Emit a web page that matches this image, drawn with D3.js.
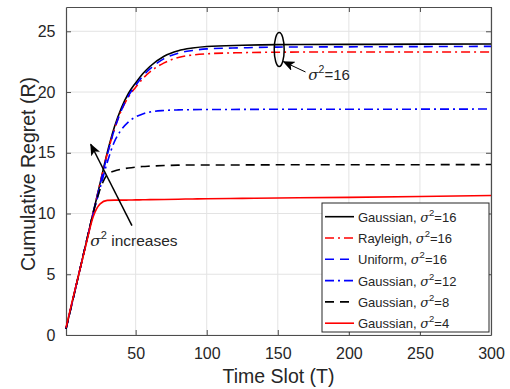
<!DOCTYPE html>
<html>
<head>
<meta charset="utf-8">
<script src="https://cdn.jsdelivr.net/npm/d3@7"></script>
<style>
  body { margin: 0; background: #fff; }
  svg text { font-family: "Liberation Sans", Arial, Helvetica, sans-serif; fill: #262626; }
</style>
</head>
<body>
<div id="wrapper"></div>
<script>
const slots = [1, 5, 10, 15, 20, 25, 30, 35, 40, 45, 50, 55, 60, 70, 80, 90, 100, 125, 150, 200, 250, 300];

const gauss16 = [0.5, 2.5, 5.0, 7.5, 10.0, 12.5, 15.0, 17.1, 18.7, 19.9, 20.75, 21.5, 22.1, 22.95, 23.4, 23.62, 23.75, 23.85, 23.9, 23.92, 23.94, 23.95];
const rayl16  = [0.5, 2.5, 5.0, 7.5, 10.0, 12.5, 14.9, 16.9, 18.5, 19.6, 20.4, 21.1, 21.65, 22.4, 22.85, 23.05, 23.15, 23.24, 23.28, 23.3, 23.3, 23.3];
const unif16  = [0.5, 2.5, 5.0, 7.5, 10.0, 12.4, 14.8, 16.9, 18.5, 19.7, 20.55, 21.3, 21.9, 22.75, 23.2, 23.42, 23.55, 23.64, 23.7, 23.72, 23.74, 23.76];
const gauss12 = [0.5, 2.5, 5.0, 7.5, 9.9, 12.1, 14.2, 15.9, 16.9, 17.55, 17.95, 18.2, 18.35, 18.48, 18.53, 18.55, 18.56, 18.57, 18.58, 18.58, 18.59, 18.6];
const gauss8  = [0.5, 2.5, 5.0, 7.5, 10.0, 12.0, 13.2, 13.5, 13.65, 13.75, 13.82, 13.87, 13.9, 13.95, 13.98, 14.0, 14.0, 14.0, 14.01, 14.02, 14.02, 14.03];
const gauss4  = [0.6, 2.6, 5.0, 7.4, 9.7, 10.8, 11.08, 11.1, 11.1, 11.11, 11.12, 11.13, 11.14, 11.16, 11.18, 11.2, 11.22, 11.25, 11.28, 11.33, 11.4, 11.48];

const seriesNames = ["Gaussian", "Rayleigh", "Uniform", "Gaussian", "Gaussian", "Gaussian"];
const seriesSigma = ["16", "16", "16", "12", "8", "4"];
const seriesValues = [gauss16, rayl16, unif16, gauss12, gauss8, gauss4];

const xTicks = [50, 100, 150, 200, 250, 300];
const yTicks = [0, 5, 10, 15, 20, 25];

// styles per series (same order)
const colors = ["#000000", "#ff0000", "#0000ff", "#0000ff", "#000000", "#ff0000"];
const dashes = [null, "9,4,2,4", "9,6", "9,4,2,4", "9,6", null];

const dimension = {
    width: 510,
    height: 389,
    margin: { top: 7, right: 19, bottom: 54, left: 66 }
};
dimension.boundedWidth = dimension.width - dimension.margin.left - dimension.margin.right;
dimension.boundedHeight = dimension.height - dimension.margin.top - dimension.margin.bottom;

const svg = d3.select("#wrapper").append("svg")
    .attr("width", dimension.width)
    .attr("height", dimension.height);

const bounds = svg.append("g")
    .attr("transform", `translate(${dimension.margin.left},${dimension.margin.top})`);

const x = d3.scaleLinear().domain([1, 300]).range([0, dimension.boundedWidth]);
const y = d3.scaleLinear().domain([0, 27]).range([dimension.boundedHeight, 0]);

// grid
bounds.append("g").selectAll("line").data(xTicks).enter().append("line")
    .attr("x1", d => x(d)).attr("x2", d => x(d))
    .attr("y1", 0).attr("y2", dimension.boundedHeight)
    .attr("stroke", "#e3e3e3").attr("stroke-width", 1);
bounds.append("g").selectAll("line").data(yTicks).enter().append("line")
    .attr("x1", 0).attr("x2", dimension.boundedWidth)
    .attr("y1", d => y(d)).attr("y2", d => y(d))
    .attr("stroke", "#e3e3e3").attr("stroke-width", 1);

// axes (MATLAB-ish: ticks inward, box on)
const axisColor = "#4d4d4d";
const xAxis = bounds.append("g")
    .attr("transform", `translate(0,${dimension.boundedHeight})`)
    .call(d3.axisBottom(x).tickValues(xTicks).tickSizeInner(-5).tickSizeOuter(0).tickPadding(12.5));
const yAxis = bounds.append("g")
    .call(d3.axisLeft(y).tickValues(yTicks).tickSizeInner(-5).tickSizeOuter(0).tickPadding(10.5));
const xTop = bounds.append("g")
    .call(d3.axisTop(x).tickValues(xTicks).tickSizeInner(-5).tickSizeOuter(0).tickFormat(""));
const yRight = bounds.append("g")
    .attr("transform", `translate(${dimension.boundedWidth},0)`)
    .call(d3.axisRight(y).tickValues(yTicks).tickSizeInner(-5).tickSizeOuter(0).tickFormat(""));

[xAxis, yAxis, xTop, yRight].forEach(a => {
    a.select(".domain").attr("stroke", axisColor).attr("stroke-width", 1.2);
    a.selectAll(".tick line").attr("stroke", axisColor);
    a.selectAll(".tick text").style("font-size", "16px").attr("fill", "#262626");
});

// lines
const line = d3.line()
    .x((d, i) => x(slots[i]))
    .y(d => y(d))
    .curve(d3.curveMonotoneX);

bounds.append("g").selectAll("path").data(seriesValues).enter().append("path")
    .attr("d", d => line(d))
    .attr("fill", "none")
    .attr("stroke", (d, i) => colors[i])
    .attr("stroke-width", 1.6)
    .attr("stroke-dasharray", (d, i) => dashes[i]);

// axis labels
svg.append("text")
    .attr("x", dimension.margin.left + dimension.boundedWidth / 2)
    .attr("y", 383)
    .attr("text-anchor", "middle")
    .style("font-size", "19.5px")
    .text("Time Slot (T)");
svg.append("text")
    .attr("transform", "translate(35,174) rotate(-90)")
    .attr("text-anchor", "middle")
    .style("font-size", "19.5px")
    .text("Cumulative Regret (R)");

// arrow head marker
svg.append("defs").append("marker")
    .attr("id", "head")
    .attr("viewBox", "0 0 12 10")
    .attr("refX", 11).attr("refY", 5)
    .attr("markerWidth", 12).attr("markerHeight", 10)
    .attr("markerUnits", "userSpaceOnUse")
    .attr("orient", "auto")
    .append("path")
    .attr("d", "M0,0 L12,5 L0,10 L3,5 Z")
    .attr("fill", "#000");

// "sigma^2 increases" arrow
bounds.append("line")
    .attr("x1", x(47.4)).attr("y1", y(9.0))
    .attr("x2", x(18.4)).attr("y2", y(15.7))
    .attr("stroke", "#000").attr("stroke-width", 1.5)
    .attr("marker-end", "url(#head)");

const inc = bounds.append("text")
    .attr("x", x(18)).attr("y", y(7.3))
    .style("font-size", "15.5px");
inc.append("tspan").text("σ").style("font-family", "DejaVu Serif, serif").style("font-style", "italic");
inc.append("tspan").text("2").attr("dy", -7).style("font-size", "11px");
inc.append("tspan").text(" increases").attr("dy", 7);

// ellipse around the sigma^2=16 curves
bounds.append("ellipse")
    .attr("cx", x(151)).attr("cy", y(23.5))
    .attr("rx", x(151) - x(147.5)).attr("ry", y(22.1) - y(23.5))
    .attr("fill", "none").attr("stroke", "#000").attr("stroke-width", 1.5);

bounds.append("line")
    .attr("x1", x(169.5)).attr("y1", y(21.65))
    .attr("x2", x(154)).attr("y2", y(22.5))
    .attr("stroke", "#000").attr("stroke-width", 1)
    .attr("marker-end", "url(#head)");

const s16 = bounds.append("text")
    .attr("x", x(171.5)).attr("y", y(21.0))
    .style("font-size", "15px");
s16.append("tspan").text("σ").style("font-family", "DejaVu Serif, serif").style("font-style", "italic");
s16.append("tspan").text("2").attr("dy", -7).style("font-size", "10.5px");
s16.append("tspan").text("=16").attr("dy", 7);

// legend
const legend = svg.append("g").attr("transform", "translate(322,203)");
legend.append("rect")
    .attr("width", 167).attr("height", 129)
    .attr("fill", "#fff").attr("stroke", "#262626").attr("stroke-width", 1);

const rows = legend.selectAll("g.row").data(seriesNames).enter().append("g")
    .attr("class", "row")
    .attr("transform", (d, i) => `translate(0,${13.7 + i * 21.3})`);
rows.append("line")
    .attr("x1", 3).attr("x2", 32).attr("y1", 0).attr("y2", 0)
    .attr("stroke", (d, i) => colors[i])
    .attr("stroke-width", 1.6)
    .attr("stroke-dasharray", (d, i) => dashes[i]);
const lt = rows.append("text")
    .attr("x", 36).attr("y", 5)
    .style("font-size", "13px");
lt.append("tspan").text(d => d + ", ");
lt.append("tspan").text("σ").style("font-family", "DejaVu Serif, serif").style("font-style", "italic");
lt.append("tspan").text("2").attr("dy", -6).style("font-size", "9.5px");
lt.append("tspan").text((d, i) => "=" + seriesSigma[i]).attr("dy", 6);
</script>
</body>
</html>
